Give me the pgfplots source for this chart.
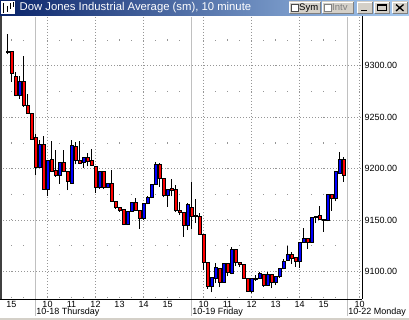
\documentclass[border=0pt]{standalone}
\usepackage{pgfplots}
\pgfplotsset{compat=1.18}
\usepackage{pgfplotstable}
\usepackage{fontspec}
\setmainfont{Liberation Sans}
\definecolor{cred}{RGB}{255,0,0}
\definecolor{cblue}{RGB}{0,0,255}
\definecolor{tbL}{RGB}{10,36,106}
\definecolor{tbR}{RGB}{166,202,240}
\definecolor{btn}{RGB}{212,208,200}
\definecolor{btnd}{RGB}{128,128,128}
\definecolor{gridc}{RGB}{150,150,150}
\definecolor{dayc}{RGB}{192,192,192}
\definecolor{edgec}{RGB}{64,64,64}
\def\yu{1.02845}
\pgfdeclareplotmark{emptymark}{}
\pgfplotstableread{
x o h l c
0 9313.5 9330.5 9311 9313
1 9313.5 9314 9284 9292
2 9289 9294 9270 9271
3 9271 9290 9268 9284.5
4 9284.5 9309 9260 9261.5
5 9261.5 9272 9253 9253
6 9253 9253 9228 9228.5
7 9230 9233.5 9194 9200.5
8 9200.5 9227.5 9200 9223.5
9 9223.5 9231.5 9180 9180
10 9180 9208 9173 9208
11 9209 9226.5 9197 9197.5
12 9198 9218 9192 9193
13 9193 9206 9185 9206
14 9206 9218 9197 9197.5
15 9197.5 9197.5 9179 9187
16 9185.5 9227.5 9185 9222.5
17 9221.5 9226 9204 9208
18 9207.5 9226.5 9204 9205
19 9206 9211 9200 9210.5
20 9211 9215 9202 9207
21 9208 9219 9203 9203
22 9202 9202 9176 9182
23 9182 9197 9180 9197
24 9197 9197 9180 9182
25 9182 9186 9181 9185.5
26 9185.5 9199 9168 9168
27 9168 9168 9161 9162
28 9162 9162.5 9158 9159.5
29 9160.5 9161 9145 9146
30 9146 9159 9145 9158.5
31 9158.5 9167 9158 9167
32 9167 9171 9159 9159
33 9159.5 9159.5 9141.5 9151
34 9151 9166 9150 9166
35 9166 9173 9165 9172
36 9172 9185 9171 9184.5
37 9184.5 9206.5 9184 9203.5
38 9203.5 9205.5 9182 9190.5
39 9190.5 9191 9172 9174
40 9174 9180 9163 9180
41 9180.5 9190 9173 9179
42 9180 9184 9158 9159.5
43 9159.5 9167.5 9155 9157.5
44 9157.5 9157.5 9133.5 9144.5
45 9144.5 9166 9140 9165
46 9162.5 9187 9141 9153.5
47 9154 9170 9147 9153.3
48 9153.5 9156.5 9136 9136
49 9135.5 9135.5 9101.5 9109
50 9109 9109 9083 9085
51 9085 9094 9079.5 9094
52 9093.5 9108 9088.5 9104
53 9103 9103 9084.5 9089.5
54 9089.5 9108 9089 9108
55 9108 9108 9095 9099
56 9097.5 9124 9097 9121.5
57 9121.5 9121.5 9105.5 9108.5
58 9108.5 9108.5 9104 9107
59 9107 9107 9093 9093
60 9093 9093 9080 9080
61 9080 9093 9079 9093
62 9092.5 9096.5 9091 9093.5
63 9093.5 9099 9093 9097.5
64 9097 9097 9085 9086.5
65 9086.5 9099 9086 9096.5
66 9096.5 9097 9083.5 9089.5
67 9089.5 9095 9086.5 9095
68 9095 9103 9094 9103
69 9103 9112 9102 9110
70 9110.5 9125 9110 9116.5
71 9116 9118.5 9107 9112
72 9113 9113 9104.5 9110
73 9110 9128.5 9103.5 9128.5
74 9128.5 9142 9128 9131.5
75 9131.5 9131.5 9121.5 9128.5
76 9128.5 9152.5 9128 9152.5
77 9153.3 9154 9146.8 9152.3
78 9154.5 9163.5 9150 9150.5
79 9150.5 9150.5 9138.5 9149
80 9149 9175 9148.5 9175
81 9175 9175 9159 9171
82 9171 9197.5 9168 9197.5
83 9195.5 9216 9195 9209
84 9209 9211.5 9187 9193
}\candles
\begin{document}
\begin{tikzpicture}[x=1pt,y=1pt]
\useasboundingbox (0,0) rectangle (409,-320);
\fill[white] (0,0) rectangle (409,-320);
\begin{axis}[
  at={(0pt,-299pt)}, anchor=south west,
  scale only axis, width=362pt, height=282pt,
  xmin=-1.875, xmax=88.625, ymin=9073.1, ymax=9347.3,
  clip=false,
  axis line style={draw=none},
  major tick length=0pt, minor tick length=0pt,
  tick style={draw=none},
  ytick={9100,9150,9200,9250,9300},
  yticklabels={9100.00,9150.00,9200.00,9250.00,9300.00},
  yticklabel pos=right,
  xtick={1,10,16,22,28,34,40,49,55,61,67,73,79,88},
  xticklabels={15,10,11,12,13,14,15,10,11,12,13,14,15,10},
  tick label style={font=\fontsize{9}{9}\selectfont, inner sep=0pt},
  xticklabel style={anchor=base, yshift=-8.6pt},
  yticklabel style={anchor=west, xshift=2.5pt},
]
% dense grid
\pgfplotsinvokeforeach{9100,9150,9200,9250,9300}{
  \draw[gridc, dash pattern=on 1pt off 2pt] (axis cs:-1.875,#1) -- (axis cs:88.625,#1);
}
\pgfplotsinvokeforeach{10,22,34,49,61,73,88}{
  \draw[gridc, dash pattern=on 1pt off 2pt] (axis cs:#1,9347.3) -- (axis cs:#1,9073.1);
}
% sparse grid
\pgfplotsinvokeforeach{9075,9125,9175,9225,9275,9325}{
  \draw[gridc, dash pattern=on 1pt off 11pt] (axis cs:0.875,#1) -- (axis cs:88.625,#1);
}
\pgfplotsinvokeforeach{1,16,28,40,55,67,79}{
  \draw[gridc, dash pattern=on 1pt off 24.71pt] (axis cs:#1,9325.5) -- (axis cs:#1,9073.1);
}
% day separators
\pgfplotsinvokeforeach{7,46,85}{
  \draw[dayc, line width=1pt] (axis cs:#1,9347.3) -- (axis cs:#1,9073.1) -- ++(0pt,-16.5pt);
}
% day labels
\node[anchor=base west, inner sep=0pt, font=\fontsize{9}{9}\selectfont, yshift=-15.9pt, xshift=0.6pt] at (axis cs:7,9073.1) {10-18 Thursday};
\node[anchor=base west, inner sep=0pt, font=\fontsize{9}{9}\selectfont, yshift=-15.9pt, xshift=0.6pt] at (axis cs:46,9073.1) {10-19 Friday};
\node[anchor=base west, inner sep=0pt, font=\fontsize{9}{9}\selectfont, yshift=-15.9pt, xshift=0.6pt] at (axis cs:85,9073.1) {10-22 Monday};
% candles
\addplot[
  only marks, mark=emptymark, scatter,
  visualization depends on={\thisrow{o} \as \vO},
  visualization depends on={\thisrow{h} \as \vH},
  visualization depends on={\thisrow{l} \as \vL},
  visualization depends on={\thisrow{c} \as \vC},
  scatter/@pre marker code/.code={%
    \pgfscope
    \pgfmathsetlengthmacro\cdH{(\vH-\vO)*\yu}%
    \pgfmathsetlengthmacro\cdL{(\vL-\vO)*\yu}%
    \pgfmathsetlengthmacro\cdC{(\vC-\vO)*\yu}%
    \pgfmathtruncatemacro\cdUp{\vC>\vO}%
    \pgfsetlinewidth{1pt}\pgfsetstrokecolor{black}%
    \pgfpathmoveto{\pgfpoint{0pt}{\cdL}}\pgfpathlineto{\pgfpoint{0pt}{\cdH}}\pgfusepath{stroke}%
    \ifnum\cdUp=1 \pgfsetfillcolor{cblue}\else\pgfsetfillcolor{cred}\fi
    \pgfpathrectangle{\pgfpoint{-1.5pt}{0pt}}{\pgfpoint{3pt}{\cdC}}%
    \pgfusepath{fill,stroke}%
  },
  scatter/@post marker code/.code={\endpgfscope},
] table[x=x, y=o] {\candles};
\end{axis}
% frame
\fill[edgec] (0,-16) rectangle (1.5,-299);
\draw[black, line width=1pt] (0,-299) -- (362,-299);
\draw[black, line width=1pt] (362,-16) -- (362,-299);
\fill[btn] (0,-317.5) rectangle (409,-320);
% title bar
\shade[left color=tbL, right color=tbR] (0,0) rectangle (409,-15.5);
\fill[white] (1,-1.5) rectangle (15,-14);
\draw[black, line width=1pt] (3.5,-3) -- (3.5,-13);
\draw[black, line width=1pt] (7,-6) -- (7,-12);
\draw[black, line width=1pt] (10.5,-3.5) -- (10.5,-9);
\draw[black, line width=0.8pt] (13,-2.5) -- (13,-7);
\node[anchor=base west, inner sep=0pt, text=white, font=\fontsize{11.3}{12}\selectfont] at (19.5,-10.8) {Dow Jones Industrial Average (sm), 10 minute};
% Sym button
\fill[btn] (289,-1.5) rectangle (321,-13.5);
\draw[white] (289.5,-13) |- (320.5,-2);
\draw[btnd] (289.5,-13) -| (320.5,-2);
\fill[white] (291.5,-4.5) rectangle (298,-11);
\draw[black!70, line width=0.8pt] (291.5,-4.5) rectangle (298,-11);
\node[anchor=base west, inner sep=0pt, font=\fontsize{9.5}{10}\selectfont] at (299,-11) {Sym};
% Intv button
\fill[btn] (322,-1.5) rectangle (354,-13.5);
\draw[white] (322.5,-13) |- (353.5,-2);
\draw[btnd] (322.5,-13) -| (353.5,-2);
\fill[white] (324.5,-4.5) rectangle (331,-11);
\draw[btnd, line width=0.8pt] (324.5,-4.5) rectangle (331,-11);
\node[anchor=base west, inner sep=0pt, text=btnd, font=\fontsize{9.5}{10}\selectfont] at (332,-11) {Intv};
% window buttons
\foreach \a/\b in {357/373,374/390,392/408}{
  \fill[btn] (\a,-1.5) rectangle (\b,-13.5);
  \draw[white] (\a+0.5,-13) |- (\b-0.5,-2);
  \draw[btnd] (\a+0.5,-13) -| (\b-0.5,-2);
}
\fill[black] (361,-10) rectangle (367,-11.5);
\draw[black, line width=1pt] (377.5,-4.5) rectangle (386.5,-11);
\draw[black, line width=1.5pt] (377.5,-4.8) -- (386.5,-4.8);
\draw[black, line width=1.3pt] (396,-4.5) -- (403.5,-11) (396,-11) -- (403.5,-4.5);
\end{tikzpicture}
\end{document}
